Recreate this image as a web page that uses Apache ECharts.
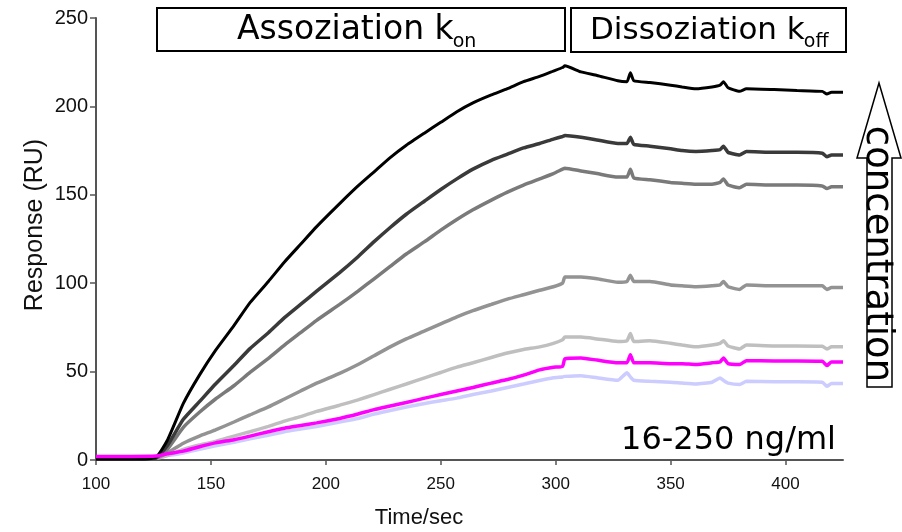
<!DOCTYPE html>
<html>
<head>
<meta charset="utf-8">
<script src="https://cdn.jsdelivr.net/npm/echarts@6/dist/echarts.min.js"></script>
<style>html,body{margin:0;padding:0;background:#fff}#c{width:902px;height:532px}</style>
</head>
<body>
<div id="c"></div>
<script>
// time points (sec)
const times = [100,115,126,131,138,145,152,160,167,175,182,189,196,206,214,221,228,235,243,250,257,264,272,279,286,293,299,303,
  304,311,318,327,331,332.5,334,341,350,355,361,368,371.5,373,375,380,383,395,405,416,418,420,425];
// response (RU) per concentration
const sBlack = [0.5,0.5,1.5,11,32,48,62,76,89,101,112,122,132,145,155,163,171,178,185,191,197,202,206.5,210,214,217,220,222,
  223,219.5,217.5,214.5,214,219,214.5,213.5,212,211,210,211,212,214,210.5,208.5,210,209.5,209,208.5,207,208,208];
const sDark = [0.5,0.5,1,8,23,33,43,53.5,63,72,80.5,88,95.5,106,115,123.5,131.5,139,146.5,153,159,164.5,169.5,173,176.5,179,181.5,183,
  183.5,182.5,181,179,179,182.5,178.5,177.5,176,175,174.5,175,175.5,177.5,174,172.5,174.5,174,174,173.5,171.5,172.5,172.5];
const sGray1 = [0.5,0.5,1,6,18.5,27,34.5,42,49.5,57.5,65,72,79,88,95.5,102.5,109.5,116.5,123.5,130,136,141.5,147,151.5,155.5,159,162,164.5,
  165,163.5,162,160,160,164.5,159.5,158.5,157,156.5,156,156,157,159,155.5,154,156,155.5,155.5,155,153.5,154.5,154.5];
const sGray2 = [0.5,0.5,1,4,9.5,13.5,17,21.5,25.5,30,34.5,39,43.5,49,54,59,64,68.5,73,77,81,84.5,88,91,93.5,96,98,100,
  103.5,103.5,102.5,100.5,101,104.5,101,101,99,98.5,98,98.5,99,101,98,96.5,99,98.5,98.5,98.5,96.5,97.5,97.5];
const sLight = [1,1,1,2.5,6,8.5,10.5,13.5,16,19,22,24.5,27.5,31,34,37,40,43,46.5,49.5,52.5,55,58,60.5,62.5,64,66,68,
  69.5,69.5,68.5,67,67.5,71.5,67,67.5,66,65,64,65,66,67.5,64.5,62.8,65,64.5,64.5,64.3,62.8,64,64];
const sMagenta = [2,2,2.2,3.5,5,7.5,9.7,11.5,13.5,16,18,19.5,21,23.5,26,28.5,30.5,32.5,35,37,39,41,43.5,45.5,48,51,52.5,53,
  57.2,57.7,56.5,55,55,59.6,55,55,54.5,54.5,54,55,55.5,57.7,54.5,54,56.2,56,56,55.8,53.4,55.5,55.5];
const sLavender = [1.5,1.5,1.5,2.5,4,6,8,10,12,14,16,17.5,19,21.5,23.5,26,28,30,32,33.5,35,37,39,41,43,45,46.5,47,
  47.3,47.7,46.5,45.1,49.3,47,45.1,44.5,44,43.5,43,44,46.4,45,43.5,42.7,44.5,44.2,44.2,44,41.7,43.2,43.2];
const xTicks = [100,150,200,250,300,350,400];
const yTicks = [0,50,100,150,200,250];
const seriesNames = ['lavender','light','gray2','gray1','dark','black','magenta'];
const seriesData = [sLavender,sLight,sGray2,sGray1,sDark,sBlack,sMagenta];
const seriesColors = ['#ccccff','#bfbfbf','#939393','#7a7a7a','#3a3a3a','#000000','#ff00ff'];

const lab = 'Liberation Sans, Arial, sans-serif';
const dv = 'DejaVu Sans, Verdana, sans-serif';
const ctx = document.createElement('canvas').getContext('2d');
function tw(t, f){ ctx.font = f; return ctx.measureText(t).width; }
const font1 = '33px ' + dv, font2 = '31px ' + dv, subFont = '19px ' + dv;
const t1x = 237, t2x = 590;
const t1w = tw('Assoziation k', font1), t2w = tw('Dissoziation k', font2);

const chart = echarts.init(document.getElementById('c'));
const pair = arr => times.map((t,i)=>[t,arr[i]]);
chart.setOption({
  animation:false,
  grid:{left:96,right:59,top:18,bottom:72},
  xAxis:{type:'value',min:100,max:425,interval:50,
    axisLine:{lineStyle:{color:'#555',width:2}},
    axisTick:{length:5,lineStyle:{color:'#555',width:1.5},customValues:xTicks},
    axisLabel:{color:'#111',fontFamily:lab,fontSize:17,margin:16,customValues:xTicks},
    splitLine:{show:false}},
  yAxis:{type:'value',min:0,max:250,interval:50,
    axisLine:{show:true,lineStyle:{color:'#555',width:2}},
    axisTick:{show:true,length:6,lineStyle:{color:'#555',width:1.5},customValues:yTicks},
    axisLabel:{color:'#111',fontFamily:lab,fontSize:20,margin:8,customValues:yTicks},
    splitLine:{show:false}},
  series: seriesData.map((d,i)=>({
    name:seriesNames[i],type:'line',data:pair(d),showSymbol:false,smooth:0.15,
    lineStyle:{color:seriesColors[i],width:i===5?3:3.5},z:2+i
  })),
  graphic:[
    {type:'rect',shape:{x:157,y:8,width:408,height:43},style:{fill:'#fff',stroke:'#000',lineWidth:2},z:10},
    {type:'rect',shape:{x:571,y:8,width:275,height:44},style:{fill:'#fff',stroke:'#000',lineWidth:2},z:10},
    {type:'text',x:t1x,y:30,z:11,style:{text:'Assoziation k',font:font1,fill:'#000',align:'left',verticalAlign:'middle'}},
    {type:'text',x:t1x+t1w-1,y:42.5,z:11,style:{text:'on',font:subFont,fill:'#000',align:'left',verticalAlign:'middle'}},
    {type:'text',x:t2x,y:30.5,z:11,style:{text:'Dissoziation k',font:font2,fill:'#000',align:'left',verticalAlign:'middle'}},
    {type:'text',x:t2x+t2w-1,y:42.5,z:11,style:{text:'off',font:subFont,fill:'#000',align:'left',verticalAlign:'middle'}},
    {type:'polygon',z:10,shape:{points:[[879,83],[901,158],[892,158],[892,387],[867,387],[867,158],[857,158]]},style:{fill:'#fff',stroke:'#000',lineWidth:1.5}},
    {type:'text',x:877,y:254,rotation:-Math.PI/2,z:11,style:{text:'concentration',font:'37px '+dv,fill:'#000',align:'center',verticalAlign:'middle'}},
    {type:'text',x:836,y:441,z:11,style:{text:'16-250 ng/ml',font:'32px '+dv,fill:'#000',align:'right',verticalAlign:'middle'}},
    {type:'text',x:35,y:225,rotation:Math.PI/2,z:11,style:{text:'Response (RU)',font:'25px '+lab,fill:'#111',align:'center',verticalAlign:'middle'}},
    {type:'text',x:419,y:518,z:11,style:{text:'Time/sec',font:'22px '+lab,fill:'#111',align:'center',verticalAlign:'middle'}}
  ]
});
</script>
</body>
</html>
